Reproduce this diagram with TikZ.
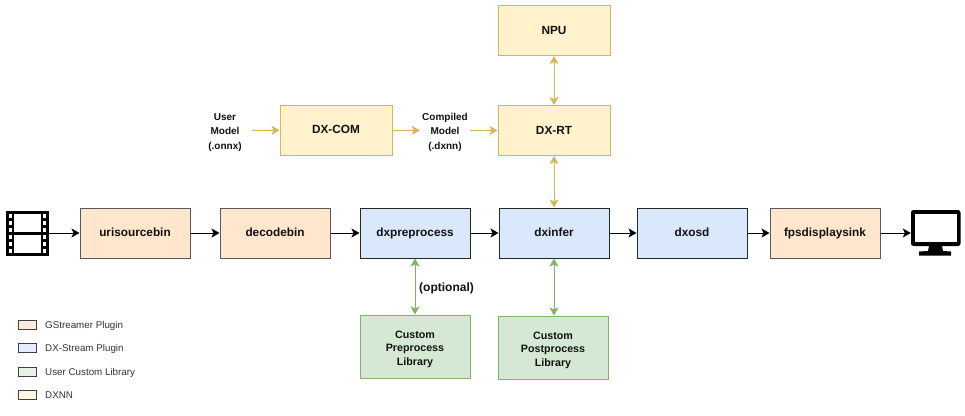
\documentclass[tikz,border=0pt]{standalone}
\usepackage{fontspec}
\setmainfont{Liberation Sans}
\usetikzlibrary{arrows.meta,positioning}
\definecolor{gsf}{HTML}{FFE6CC}
\definecolor{dxf}{HTML}{DAE8FC}
\definecolor{grf}{HTML}{D5E8D4}
\definecolor{grd}{HTML}{82B366}
\definecolor{yef}{HTML}{FFF2CC}
\definecolor{yed}{HTML}{D6B656}
\definecolor{ink}{HTML}{111111}
\tikzset{
  x=1pt,y=-1pt,
  every node/.style={text=ink,align=center,inner sep=0pt},
  box/.style={draw,line width=1pt,minimum width=110pt,minimum height=50pt,font=\fontsize{11.8}{14}\selectfont\bfseries},
  oneline/.style={text height=9.4pt,text depth=2.4pt},
  gst/.style={box,oneline,fill=gsf,draw=black!65},
  dxs/.style={box,oneline,fill=dxf,draw=black!85},
  lib/.style={box,fill=grf,draw=grd,minimum height=63pt,font=\fontsize{10.7}{13.3}\selectfont\bfseries,text height=39.6pt,text depth=2.6pt},
  dxnn/.style={box,oneline,fill=yef,draw=yed,minimum width=112pt},
  modeltxt/.style={font=\fontsize{10}{14.5}\selectfont\bfseries,text height=40pt,text depth=2.5pt},
  flow/.style={draw=black,line width=1pt,-{Stealth[length=8pt,width=9pt,inset=2pt]}},
  yarr/.style={draw=yed,line width=1pt,-{Stealth[length=8pt,width=9pt,inset=2pt]}},
  ybi/.style={draw=yed,line width=1pt,{Stealth[length=8pt,width=9pt,inset=2pt]}-{Stealth[length=8pt,width=9pt,inset=2pt]}},
  gbi/.style={draw=grd,line width=1pt,{Stealth[length=8pt,width=9pt,inset=2pt]}-{Stealth[length=8pt,width=9pt,inset=2pt]}},
  legbox/.style={draw=black!75,line width=.8pt,minimum width=18pt,minimum height=9pt},
  legtxt/.style={font=\fontsize{9.8}{12}\selectfont,text=black!80,anchor=west,oneline},
}
\begin{document}
\begin{tikzpicture}
\useasboundingbox (0,0) rectangle (965,415);
\fill[white] (0,0) rectangle (965,415);
% main row
\node[gst] (uri) at (135,233) {urisourcebin};
\node[gst] (dec) at (275,233) {decodebin};
\node[dxs] (pre) at (415,233) {dxpreprocess};
\node[dxs] (inf) at (554,233) {dxinfer};
\node[dxs] (osd) at (692,233) {dxosd};
\node[gst] (fps) at (825,233) {fpsdisplaysink};
% upper
\node[dxnn] (npu) at (554,30.5) {NPU};
\node[dxnn] (rt) at (554,130.5) {DX-RT};
\node[dxnn] (com) at (336,130) {DX-COM};
\node[modeltxt,minimum width=54pt] (um) at (225,130.5) {User\\Model\\(.onnx)};
\node[modeltxt,minimum width=50pt] (cm) at (445,130.5) {Compiled\\Model\\(.dxnn)};
% libs
\node[lib] (cpre) at (415,346.5) {Custom\\Preprocess\\Library};
\node[lib] (cpost) at (553,347.5) {Custom\\Postprocess\\Library};
\node[font=\fontsize{12}{14}\selectfont\bfseries,anchor=west,oneline] (opt) at (419,288) {(optional)};
% film icon
\node[minimum width=43pt,minimum height=46pt] (film) at (27.5,233) {};
\fill[black] (6,210.5) rectangle (49,255.5);
\fill[white] (14,213.5) rectangle (41,231.5);
\fill[white] (14,234.5) rectangle (41,252.5);
\foreach \yy in {214,221,228,235,242,249}{
  \fill[white] (9,\yy) rectangle (12,\yy+4);
  \fill[white] (43,\yy) rectangle (46,\yy+4);
}
% monitor icon
\node[minimum width=49pt,minimum height=46pt] (mon) at (935.5,233) {};
\fill[black,rounded corners=2.5pt] (911,210) rectangle (960.5,246);
\fill[white] (915,214) rectangle (956.5,242);
\fill[black] (929,246) -- (942,246) -- (943,251) -- (951,251.5) -- (951,255.5) -- (919,255.5) -- (919,251.5) -- (928,251) -- cycle;
% connectors
\draw[flow] (film) -- (uri);
\draw[flow] (uri) -- (dec);
\draw[flow] (dec) -- (pre);
\draw[flow] (pre) -- (inf);
\draw[flow] (inf) -- (osd);
\draw[flow] (osd) -- (fps);
\draw[flow] (fps) -- (mon);
\draw[yarr] (um) -- (com);
\draw[yarr] (com) -- (cm);
\draw[yarr] (cm) -- (rt);
\draw[ybi] (npu) -- (rt);
\draw[ybi] (rt) -- (inf);
\draw[gbi] (pre) -- (cpre);
\draw[gbi] (inf) -- (inf |- cpost.north);
% legend
\node[legbox,fill=gsf!75] (l1) at (27,324.5) {};
\node[legbox,fill=dxf!75] (l2) at (27,348) {};
\node[legbox,fill=grf!55] (l3) at (27,371.5) {};
\node[legbox,fill=yef!60] (l4) at (27,394.5) {};
\node[legtxt] (t1) at (45,325) {GStreamer Plugin};
\node[legtxt] (t2) at (45,348) {DX-Stream Plugin};
\node[legtxt] (t3) at (45,371.5) {User Custom Library};
\node[legtxt] (t4) at (45,395) {DXNN};
\end{tikzpicture}
\end{document}
